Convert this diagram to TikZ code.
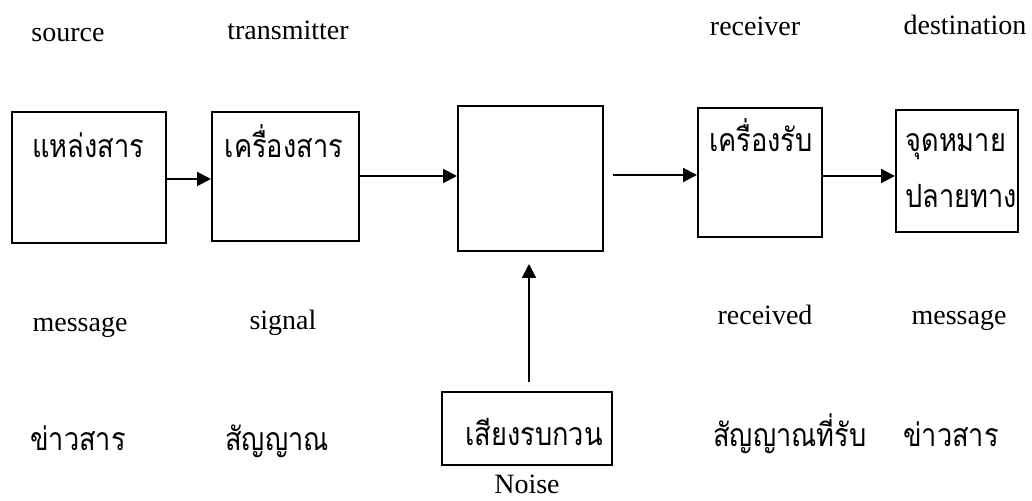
\documentclass[tikz,border=0pt]{standalone}
\usepackage{fontspec}
\setmainfont{Liberation Serif}
\newfontfamily\thaifont[Script=Thai,FakeStretch=0.85]{Loma}
\usetikzlibrary{arrows.meta,calc}

\tikzset{
  blockbox/.style={draw, line width=1pt, inner sep=0pt, minimum width=#1},
  eng/.style={font=\fontsize{14}{16}\selectfont, inner sep=0pt, anchor=base},
  th/.style={font=\thaifont\fontsize{16}{18}\selectfont, inner sep=0pt, anchor=base},
  flow/.style={line width=1pt, -{Triangle[length=7pt,width=7pt]}},
}

\begin{document}
\begin{tikzpicture}[x=0.5pt,y=-0.5pt]
  \useasboundingbox[fill=white] (0,0) rectangle (1032,501);

  % blocks of the communication chain
  \node[blockbox=77pt, minimum height=65.5pt] (src) at (89,177.5) {};
  \node[blockbox=73.5pt, minimum height=64.5pt] (tx) at (285.5,176.5) {};
  \node[blockbox=72.5pt, minimum height=72.5pt] (chan) at (530.5,178.5) {};
  \node[blockbox=62pt, minimum height=64.5pt] (rx) at (760,172.5) {};
  \node[blockbox=61pt, minimum height=61pt] (dst) at (957,171) {};
  \node[blockbox=85pt, minimum height=36.5pt] (noise) at (527,428.5) {};

  % texts inside the blocks
  \node[th] (srcT) at (88,158) {แหล่งสาร};
  \node[th] (txT) at (284,158) {เครื่องสาร};
  \node[th] (rxT) at (761,152) {เครื่องรับ};
  \node[th, anchor=base west] (dstT1) at (905,152) {จุดหมาย};
  \node[th, anchor=base west] (dstT2) at (905,208) {ปลายทาง};
  \node[th] (noiseT) at (534,445) {เสียงรบกวน};

  % English captions above
  \node[eng] (l1) at (68,42) {source};
  \node[eng] (l2) at (288,40) {transmitter};
  \node[eng] (l3) at (755,36) {receiver};
  \node[eng] (l4) at (965,35) {destination};

  % English captions below
  \node[eng] (m1) at (80,332) {message};
  \node[eng] (m2) at (283,330) {signal};
  \node[eng] (m3) at (765,325) {received};
  \node[eng] (m4) at (959,325) {message};
  \node[eng] (m5) at (527,494) {Noise};

  % Thai captions below
  \node[th] (t1) at (78,451) {ข่าวสาร};
  \node[th] (t2) at (277,451) {สัญญาณ};
  \node[th] (t3) at (790,446) {สัญญาณที่รับ};
  \node[th] (t4) at (951,446) {ข่าวสาร};

  % signal flow
  \coordinate (chanOut) at (613,175);
  \draw[flow] (src.east |- 0,179) -- (tx.west |- 0,179);
  \draw[flow] (tx.east |- 0,176) -- (chan.west |- 0,176);
  \draw[flow] (chanOut) -- (rx.west |- chanOut);
  \draw[flow] (rx.east |- 0,176) -- (dst.west |- 0,176);
  \draw[flow, shorten <=4.5pt, shorten >=6pt] (noise.north -| 529,0) -- (chan.south -| 529,0);
\end{tikzpicture}
\end{document}
